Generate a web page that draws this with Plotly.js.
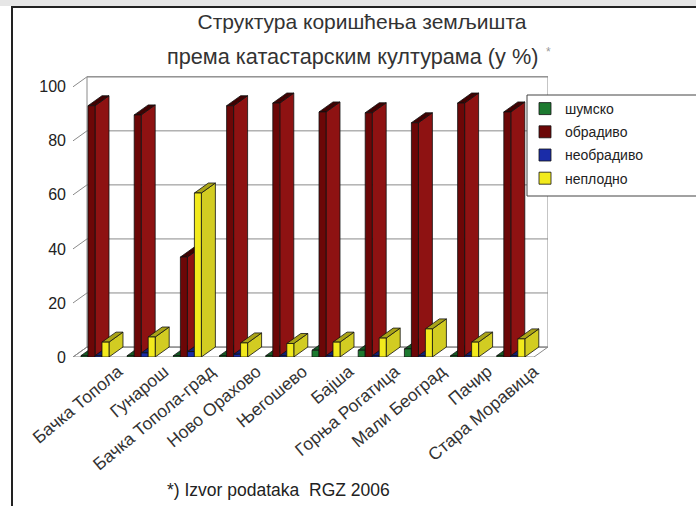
<!DOCTYPE html>
<html>
<head>
<meta charset="utf-8">
<script src="https://cdn.plot.ly/plotly-3.0.1.min.js"></script>
<style>
html,body{margin:0;padding:0;background:#fff;}
#wrap{position:absolute;left:0;top:0;width:696px;height:506px;background:#fff;overflow:hidden;}
#topstrip{position:absolute;left:0;top:0;width:696px;height:6px;background:#e6e6e6;}
#frame{position:absolute;left:11px;top:6px;width:690px;height:510px;border-left:2px solid #222;border-top:2px solid #222;}
#chart{position:absolute;left:0;top:0;width:696px;height:506px;}
</style>
</head>
<body>
<div id="wrap">
<div id="chart"></div>
<div id="topstrip"></div>
<div id="frame"></div>
</div>
<script>
// ---- data ----
const categories = ["Бачка Топола","Гунарош","Бачка Топола-град","Ново Орахово","Његошево","Бајша","Горња Рогатица","Мали Београд","Пачир","Стара Моравица"];
const seriesNames = ["шумско","обрадиво","необрадиво","неплодно"];
const sumsko      = [0.5, 0.5, 0.5, 0.5, 0.5, 2.5, 2.5, 3.0, 0.5, 0.5];
const obradivo    = [93, 89.6, 37, 93, 94, 90.7, 90.4, 86.7, 94, 90.7];
const neobradivo  = [0.5, 1.5, 2.0, 1.0, 0.5, 0.5, 0.5, 0.5, 0.5, 0.5];
const neplodno    = [5.5, 7.4, 60.7, 5.2, 5.0, 5.5, 7.0, 10.4, 5.5, 6.7];
const yTicks = [0,20,40,60,80,100];
const titleLine1 = 'Структура коришћења земљишта';
const titleLine2 = 'према катастарским културама (у %)';
const footnote = '*) Izvor podataka  RGZ 2006';

// ---- styles ----
const frontColors = ["#1d7a30","#6c0707","#1a2ca8","#f2ea1c"];
const sideColors  = ["#2e9a42","#8e1212","#2b42c8","#d2cc22"];
const topColors   = ["#145a22","#3f0202","#10207a","#aaa418"];
const values = [sumsko, obradivo, neobradivo, neplodno];
const idx = categories.map((c,i)=>i);

const W = 696, H = 506, ML = 73, MR = 148, MT = 76, MB = 149;
const PW = W-ML-MR, PH = H-MT-MB;
const px = X => (X-ML)/PW, py = Y => 1-(Y-MT)/PH;   // pixel -> paper helpers for text/legend placement

const BARGAP = 0.394;
const NS = values.length;
const SLOT = (1-BARGAP)/NS;
const DX = 2*SLOT;
const DY = 3.7;
const XMIN = -0.476, XMAX = 9.805, YMAX = 104;
const FLOOR_R = XMAX - DX;

const traces = values.map((v,k)=>({
  type:'bar', x:idx, y:v, name:seriesNames[k], legendgroup:'g'+k,
  marker:{color:frontColors[k], line:{color:'#111', width:0.8}},
  hoverinfo:'y'
}));

const shapes = [];
const gridCol = '#8a8a8a';
shapes.push({type:'path', xref:'x', yref:'y', layer:'below',
  path:`M ${XMIN},0 L ${FLOOR_R},0 L ${XMAX},${DY} L ${XMIN+DX},${DY} Z`,
  fillcolor:'#ffffff', line:{color:gridCol, width:1}});
shapes.push({type:'rect', xref:'x', yref:'y', layer:'below',
  x0:XMIN+DX, x1:XMAX, y0:DY, y1:100+DY, fillcolor:'#ffffff', line:{color:gridCol, width:1}});
yTicks.forEach(t=>{
  shapes.push({type:'line', xref:'x', yref:'y', layer:'below',
    x0:XMIN+DX, x1:XMAX, y0:t+DY, y1:t+DY, line:{color:gridCol, width:1}});
  shapes.push({type:'line', xref:'x', yref:'y', layer:'below',
    x0:XMIN, x1:XMIN+DX, y0:t, y1:t+DY, line:{color:gridCol, width:1}});
});
idx.forEach(i=>{
  values.forEach((v,k)=>{
    const x0 = i - (1-BARGAP)/2 + k*SLOT, x1 = x0 + SLOT, h = v[i];
    shapes.push({type:'path', xref:'x', yref:'y', layer:'below',
      path:`M ${x1},0 L ${x1+DX},${DY} L ${x1+DX},${h+DY} L ${x1},${h} Z`,
      fillcolor:sideColors[k], line:{color:'#111', width:0.8}});
    shapes.push({type:'path', xref:'x', yref:'y', layer:'below',
      path:`M ${x0},${h} L ${x0+DX},${h+DY} L ${x1+DX},${h+DY} L ${x1},${h} Z`,
      fillcolor:topColors[k], line:{color:'#111', width:0.8}});
  });
});
shapes.push({type:'rect', xref:'paper', yref:'paper', layer:'above',
  x0:px(527), x1:px(702), y0:py(196), y1:py(95), fillcolor:'#ffffff', line:{color:'#444', width:1}});

const layout = {
  width:W, height:H,
  margin:{l:ML, r:MR, t:MT, b:MB},
  paper_bgcolor:'rgba(0,0,0,0)', plot_bgcolor:'rgba(0,0,0,0)',
  font:{family:'Liberation Sans, Arial, sans-serif', color:'#222'},
  title:{text:titleLine1, x:362/W, xanchor:'center', y:1-22/H, yanchor:'middle',
         font:{size:21, color:'#333'}},
  barmode:'group', bargap:BARGAP, bargroupgap:0,
  xaxis:{range:[XMIN, XMAX], tickvals:idx, ticktext:categories, tickangle:-40,
         tickfont:{size:17.5, color:'#333'}, showline:false, showgrid:false, zeroline:false,
         ticks:'', automargin:false, ticklabelshift:23},
  yaxis:{range:[0, YMAX], tickvals:yTicks, ticktext:yTicks.map(String), showgrid:false,
         tickfont:{size:16, color:'#222'}, showline:false, zeroline:false, ticks:'', automargin:false,
         ticklabelstandoff:6},
  legend:{x:px(525), xanchor:'left', y:py(93), yanchor:'top', bgcolor:'rgba(0,0,0,0)',
          bordercolor:'rgba(0,0,0,0)', borderwidth:0, font:{size:14, color:'#222'},
          itemwidth:30, tracegroupgap:2},
  shapes:shapes,
  annotations:[
    {text:titleLine2, xref:'paper', yref:'paper', x:px(352), y:py(56), xanchor:'center', yanchor:'middle',
     showarrow:false, font:{size:21.7, color:'#333'}},
    {text:'*', xref:'paper', yref:'paper', x:px(548), y:py(52), xanchor:'center', yanchor:'middle',
     showarrow:false, font:{size:12, color:'#999'}},
    {text:footnote, xref:'paper', yref:'paper', x:px(165), y:py(490),
     xanchor:'left', yanchor:'middle', showarrow:false, font:{size:17.5, color:'#222'}}
  ],
  showlegend:true
};
Plotly.newPlot('chart', traces, layout, {displayModeBar:false, staticPlot:true});
</script>
</body>
</html>
